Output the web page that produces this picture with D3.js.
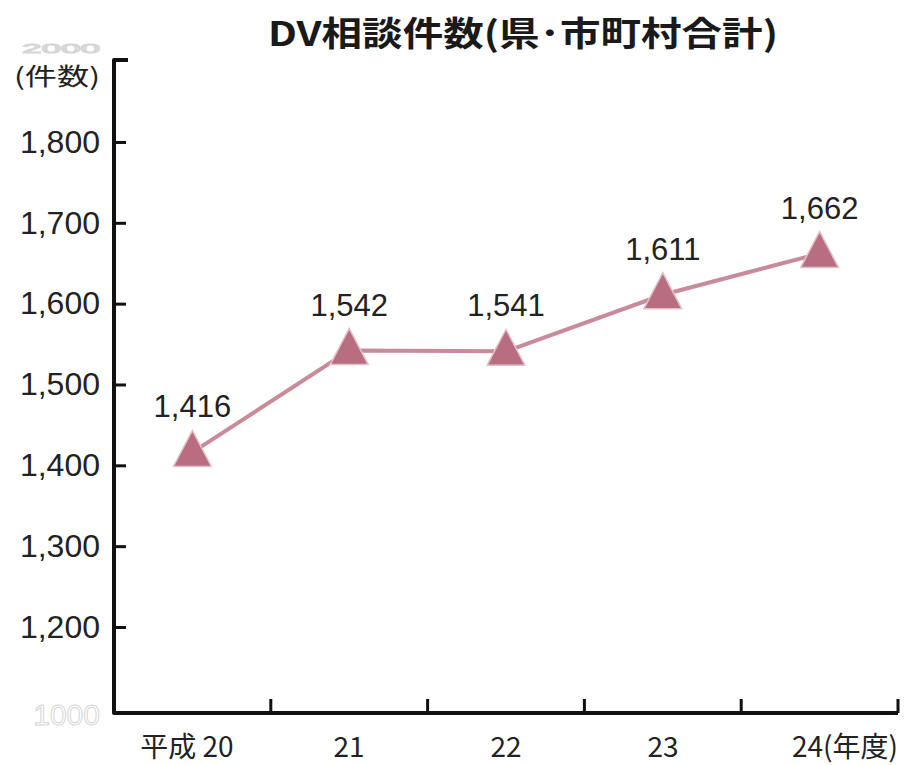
<!DOCTYPE html>
<html>
<head>
<meta charset="utf-8">
<script src="https://cdn.jsdelivr.net/npm/d3@7"></script>
<style>
  html, body { margin: 0; padding: 0; background: #fff; }
  svg { display: block; }
</style>
</head>
<body>
<svg id="chart" width="910" height="765"></svg>
<script>
// Fiscal years (Heisei era) and combined prefecture + municipal DV consultations
const years = ["20", "21", "22", "23", "24"];
const yearLabels = ["平成 20", "21", "22", "23", "24(年度)"];
const counts = [1416, 1542, 1541, 1611, 1662];
const yTicks = [1200, 1300, 1400, 1500, 1600, 1700, 1800];
const axisEndLabels = ["1000", "2000"];

const svg = d3.select("#chart");
const fontJP = "'Noto Sans CJK JP', 'Noto Sans', sans-serif";
const fontNum = "'Liberation Sans', Arial, sans-serif";

const plotLeft = 114, plotRight = 898, plotTop = 60, plotBottom = 713;

const x = d3.scaleBand().domain(years).range([plotLeft, plotRight]).paddingInner(0).paddingOuter(0);
// Broken value axis: 1200..1800 spaced evenly, the ends stand in for 1000 and 2000
const y = d3.scaleLinear().domain([1093.6, 1901.4]).range([plotBottom, plotTop]);

// Title
svg.append("text")
  .attr("x", 268).attr("y", 46)
  .attr("font-family", fontJP)
  .attr("font-weight", 700)
  .attr("font-size", 34)
  .attr("fill", "#1a1a1a")
  .attr("textLength", 510).attr("lengthAdjust", "spacingAndGlyphs")
  .text("DV相談件数(県･市町村合計)");

// Faint end labels for the broken axis
svg.append("text")
  .attr("x", 22).attr("y", 53)
  .attr("font-family", fontNum).attr("font-size", 13)
  .attr("fill", "none").attr("stroke", "#d6d6d6").attr("stroke-width", 1)
  .attr("textLength", 78).attr("lengthAdjust", "spacingAndGlyphs")
  .text(axisEndLabels[1]);
svg.append("text")
  .attr("x", 100).attr("y", 725)
  .attr("text-anchor", "end")
  .attr("font-family", fontNum).attr("font-size", 30)
  .attr("fill", "none").attr("stroke", "#d6d6d6").attr("stroke-width", 1)
  .text(axisEndLabels[0]);

// Unit label
svg.append("text")
  .attr("x", 14).attr("y", 85)
  .attr("font-family", fontJP).attr("font-size", 24)
  .attr("fill", "#222")
  .attr("textLength", 86).attr("lengthAdjust", "spacingAndGlyphs")
  .text("(件数)");

// Y axis
const yAxis = d3.axisRight(y)
  .tickValues(yTicks)
  .tickSize(12)
  .tickFormat(d3.format(","));
const gy = svg.append("g").attr("transform", `translate(${plotLeft},0)`).call(yAxis);
gy.select(".domain").remove();
gy.selectAll(".tick line").attr("stroke", "#111").attr("stroke-width", 3);
gy.selectAll(".tick text")
  .attr("x", -14).attr("text-anchor", "end")
  .attr("font-family", fontNum).attr("font-size", 32)
  .attr("fill", "#222");

// X axis ticks at band boundaries
const boundaries = years.map(d => x(d)).concat([plotRight]);
svg.append("g").selectAll("line").data(boundaries.slice(1)).join("line")
  .attr("x1", d => d).attr("x2", d => d)
  .attr("y1", plotBottom).attr("y2", plotBottom - 14)
  .attr("stroke", "#111").attr("stroke-width", 3);

// Axis frame (top hook, left, bottom)
svg.append("path")
  .attr("d", `M${plotLeft + 14},${plotTop} H${plotLeft} V${plotBottom} H${plotRight}`)
  .attr("fill", "none").attr("stroke", "#111").attr("stroke-width", 4)
  .attr("stroke-linejoin", "round");

// Category labels
const labelX = [187, 349, 506, 663, 845];
svg.append("g").selectAll("text").data(yearLabels).join("text")
  .attr("x", (d, i) => labelX[i])
  .attr("y", 757)
  .attr("text-anchor", "middle")
  .attr("font-family", fontJP).attr("font-size", 28)
  .attr("fill", "#222")
  .text(d => d);

// Line
const cx = d => x(d) + x.bandwidth() / 2;
const pts = years.map((d, i) => [cx(d), y(counts[i])]);
svg.append("path")
  .attr("d", d3.line()(pts))
  .attr("fill", "none")
  .attr("stroke", "#c98b99")
  .attr("stroke-width", 4);

// Triangle markers (slightly taller than equilateral), centroid on the value
const tallTriangle = {
  draw(ctx, size) {
    const w = Math.sqrt(size), h = w * 0.95;
    ctx.moveTo(0, -h * 2 / 3);
    ctx.lineTo(w / 2, h / 3);
    ctx.lineTo(-w / 2, h / 3);
    ctx.closePath();
  }
};
const tri = d3.symbol().type(tallTriangle).size(38 * 38);
svg.append("g").selectAll("path").data(pts).join("path")
  .attr("transform", d => `translate(${d[0]},${d[1] + 2})`)
  .attr("d", tri)
  .attr("fill", "#b86e80")
  .attr("stroke", "#e3c3ca").attr("stroke-width", 1.5);

// Value labels
svg.append("g").selectAll("text").data(pts).join("text")
  .attr("x", d => d[0])
  .attr("y", d => d[1] - 35)
  .attr("text-anchor", "middle")
  .attr("font-family", fontNum).attr("font-size", 31)
  .attr("fill", "#222")
  .text((d, i) => d3.format(",")(counts[i]));
</script>
</body>
</html>
